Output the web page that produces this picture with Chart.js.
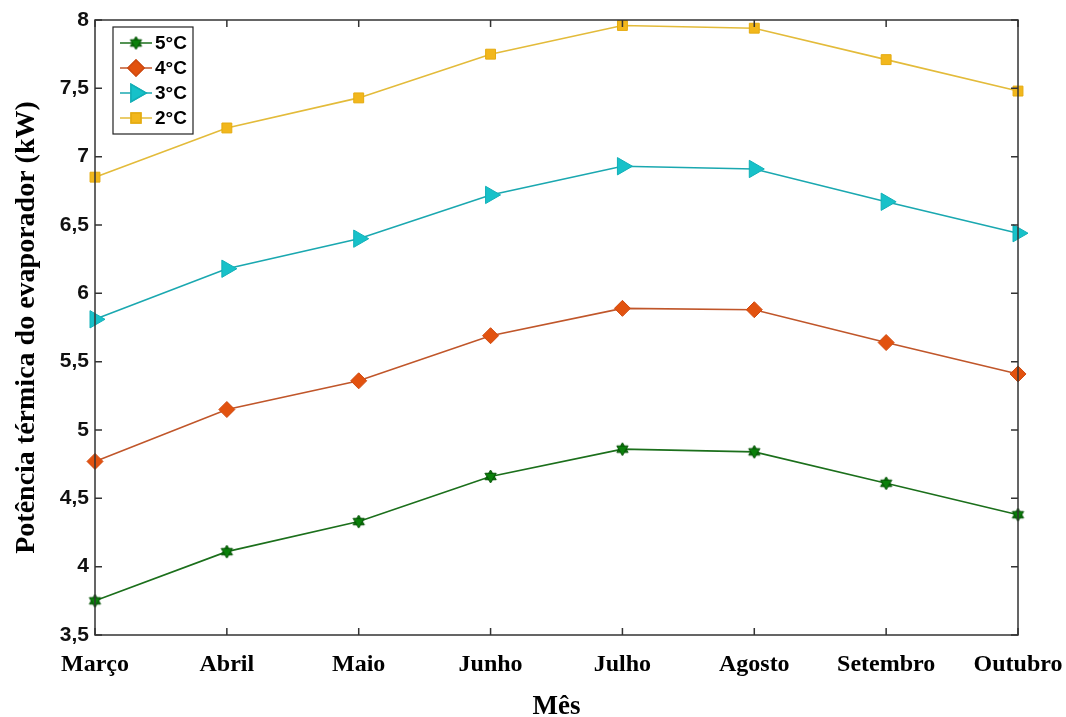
<!DOCTYPE html>
<html>
<head>
<meta charset="utf-8">
<script src="https://cdn.jsdelivr.net/npm/chart.js@4.4.1/dist/chart.umd.min.js"></script>
<style>
  html, body { margin: 0; padding: 0; background: #fff; }
  #wrap { width: 1066px; height: 717px; }
</style>
</head>
<body>
<div id="wrap"><canvas id="grafico" width="1066" height="717"></canvas></div>
<script>
// dados
const meses = ['Março', 'Abril', 'Maio', 'Junho', 'Julho', 'Agosto', 'Setembro', 'Outubro'];
const rotulosY = ['3,5', '4', '4,5', '5', '5,5', '6', '6,5', '7', '7,5', '8'];
const serie5C = [3.75, 4.11, 4.33, 4.66, 4.86, 4.84, 4.61, 4.38];
const serie4C = [4.77, 5.15, 5.36, 5.69, 5.89, 5.88, 5.64, 5.41];
const serie3C = [5.81, 6.18, 6.40, 6.72, 6.93, 6.91, 6.67, 6.44];
const serie2C = [6.85, 7.21, 7.43, 7.75, 7.96, 7.94, 7.71, 7.48];

// marcador estrela de seis pontas
function criarHexagrama(cor, borda) {
  const c = document.createElement('canvas');
  c.width = 15; c.height = 15;
  const g = c.getContext('2d');
  const cx = 7.5, cy = 7.5, r = 6.5;
  g.fillStyle = cor;
  g.strokeStyle = borda;
  g.lineWidth = 1;
  [0, Math.PI].forEach(off => {
    g.beginPath();
    for (let i = 0; i < 3; i++) {
      const a = off - Math.PI / 2 + i * 2 * Math.PI / 3;
      const px = cx + r * Math.cos(a), py = cy + r * Math.sin(a);
      if (i === 0) g.moveTo(px, py); else g.lineTo(px, py);
    }
    g.closePath();
    g.fill();
    g.stroke();
  });
  return c;
}
const estrela = criarHexagrama('#0a800a', '#045004');

// caixa, marcas internas e legenda
const moldura = {
  id: 'moldura',
  afterDraw(chart) {
    const { ctx, chartArea: a, scales } = chart;
    ctx.save();
    ctx.strokeStyle = '#333';
    ctx.lineWidth = 1.5;
    ctx.strokeRect(a.left, a.top, a.right - a.left, a.bottom - a.top);
    ctx.beginPath();
    scales.x.ticks.forEach((t, i) => {
      const x = scales.x.getPixelForTick(i);
      ctx.moveTo(x, a.bottom); ctx.lineTo(x, a.bottom - 7);
      ctx.moveTo(x, a.top); ctx.lineTo(x, a.top + 7);
    });
    scales.y.ticks.forEach((t, i) => {
      const y = scales.y.getPixelForTick(i);
      ctx.moveTo(a.left, y); ctx.lineTo(a.left + 7, y);
      ctx.moveTo(a.right, y); ctx.lineTo(a.right - 7, y);
    });
    ctx.stroke();

    // legenda
    const lx = 113, ly = 27, lw = 80, lh = 107;
    ctx.fillStyle = '#fff';
    ctx.fillRect(lx, ly, lw, lh);
    ctx.strokeStyle = '#222';
    ctx.lineWidth = 1.2;
    ctx.strokeRect(lx, ly, lw, lh);
    ctx.font = 'bold 19px "Liberation Sans", Arial, sans-serif';
    ctx.textBaseline = 'middle';
    chart.data.datasets.forEach((ds, i) => {
      const y = 43 + i * 25;
      ctx.strokeStyle = ds.borderColor;
      ctx.lineWidth = 1.5;
      ctx.beginPath();
      ctx.moveTo(120, y); ctx.lineTo(152, y);
      ctx.stroke();
      Chart.helpers.drawPoint(ctx, {
        pointStyle: ds.pointStyle,
        radius: ds.pointRadius,
        rotation: ds.pointRotation || 0,
        borderWidth: 1
      }, 136, y);
      ctx.fillStyle = ds.pointBackgroundColor;
      ctx.strokeStyle = ds.pointBorderColor;
      ctx.fill();
      if (typeof ds.pointStyle === 'string') ctx.stroke();
      ctx.fillStyle = '#000';
      ctx.fillText(ds.label, 155, y + 1);
    });
    ctx.restore();
  }
};

const ctx = document.getElementById('grafico').getContext('2d');
const grafico = new Chart(ctx, {
  type: 'line',
  data: {
    labels: meses,
    datasets: [
      {
        label: '5°C', data: serie5C,
        borderColor: '#1b6f1b', pointBackgroundColor: '#0a800a', pointBorderColor: '#045004',
        pointStyle: estrela, pointRadius: 7
      },
      {
        label: '4°C', data: serie4C,
        borderColor: '#c0562a', pointBackgroundColor: '#e2520f', pointBorderColor: '#d04a10',
        pointStyle: 'rectRot', pointRadius: 8
      },
      {
        label: '3°C', data: serie3C,
        borderColor: '#1aa8b0', pointBackgroundColor: '#17c1c9', pointBorderColor: '#12b0b8',
        pointStyle: 'triangle', pointRotation: 90, pointRadius: 10
      },
      {
        label: '2°C', data: serie2C,
        borderColor: '#e3bb3a', pointBackgroundColor: '#f2b71c', pointBorderColor: '#e5ab10',
        pointStyle: 'rect', pointRadius: 7
      }
    ].map(d => Object.assign({ borderWidth: 1.6, pointBorderWidth: 1, tension: 0, fill: false }, d))
  },
  options: {
    responsive: false,
    animation: false,
    layout: { padding: { top: 20, right: 48, left: 0, bottom: 0 } },
    plugins: { legend: { display: false }, tooltip: { enabled: false } },
    scales: {
      x: {
        type: 'category',
        offset: false,
        grid: { display: false, drawTicks: false },
        border: { display: false },
        ticks: {
          color: '#000', padding: 15, maxRotation: 0, autoSkip: false,
          font: { family: '"Liberation Serif", "Times New Roman", serif', size: 24, weight: 'bold' }
        },
        title: {
          display: true, text: 'Mês', color: '#000',
          font: { family: '"Liberation Serif", "Times New Roman", serif', size: 27, weight: 'bold' },
          padding: { top: 0, bottom: -6 }
        },
        afterFit(s) { s.height = 82; s.paddingRight = 48; s.paddingLeft = 0; }
      },
      y: {
        min: 3.5, max: 8,
        grid: { display: false, drawTicks: false },
        border: { display: false },
        ticks: {
          stepSize: 0.5, color: '#111', padding: 6,
          font: { family: '"Liberation Sans", Arial, sans-serif', size: 21, weight: 'bold' },
          callback: (v, i) => rotulosY[i]
        },
        title: {
          display: true, text: 'Potência térmica do evaporador (kW)', color: '#000',
          font: { family: '"Liberation Serif", "Times New Roman", serif', size: 28, weight: 'bold' },
          padding: { top: 10, bottom: 0 }
        },
        afterFit(s) { s.width = 95; }
      }
    }
  },
  plugins: [moldura]
});
</script>
</body>
</html>
